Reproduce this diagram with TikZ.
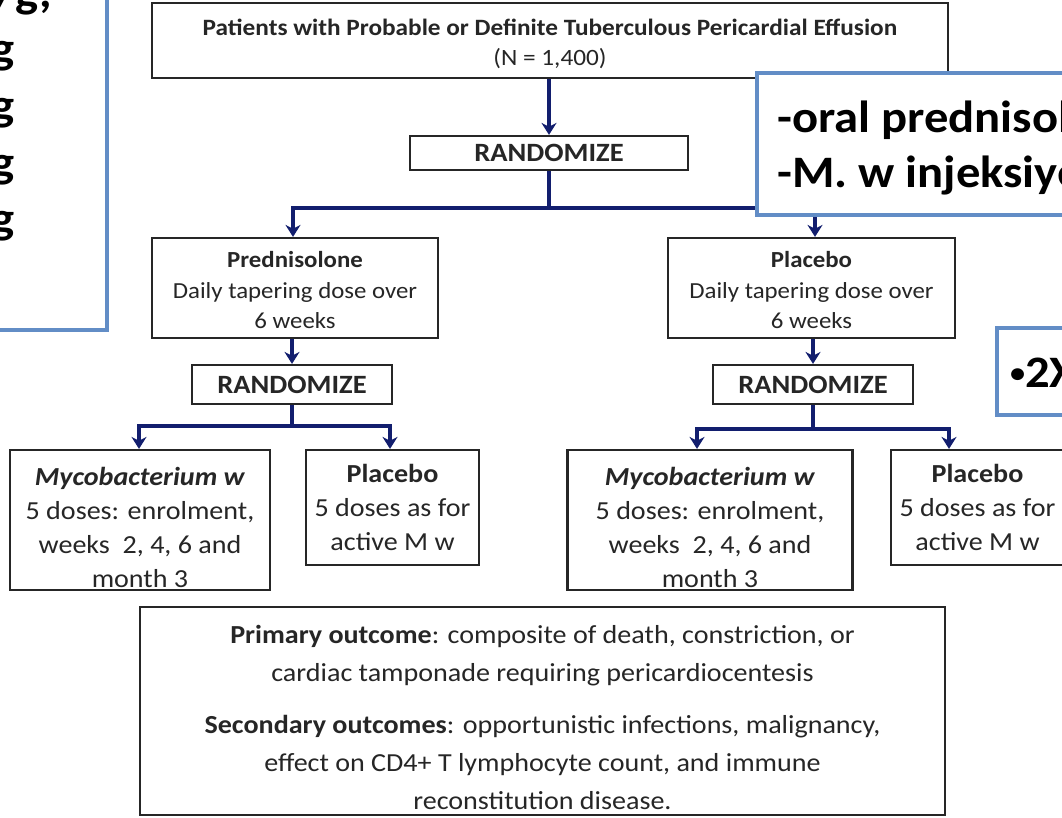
\documentclass[tikz,border=0pt]{standalone}
\usepackage{fontspec}
\setmainfont{Carlito}[FakeStretch=1.08]
\usetikzlibrary{arrows.meta}

\definecolor{navy}{RGB}{18,30,110}
\definecolor{noteblue}{RGB}{98,141,198}

\begin{document}
\begin{tikzpicture}[x=1pt, y=-1pt,
    box/.style={draw=black!85, line width=2.2pt, fill=white, align=center,
        text=black!85, inner sep=0pt},
    arr/.style={draw=navy, line width=3.2pt, -{Stealth[length=12pt, width=15pt]}},
    link/.style={draw=navy, line width=3.2pt},
    note/.style={draw=noteblue, line width=3.6pt, fill=white},
    notetext/.style={font=\fontsize{45}{56}\selectfont\bfseries, inner sep=0pt}]
    \useasboundingbox (0, 0) rectangle (1062, 817);
    \clip (0, 0) rectangle (1062, 817);

    % main trial boxes
    \node[box, minimum width=796pt, minimum height=75pt, font=\fontsize{23.4}{30}\selectfont] (top) at (550, 40.5)
        {\rule{0pt}{23pt}\textbf{Patients with Probable or Definite Tuberculous Pericardial Effusion}\\(N = 1,400)};
    \node[box, minimum width=278pt, minimum height=34pt, font=\fontsize{26.4}{30}\selectfont\bfseries] (rand) at (549, 153) {RANDOMIZE};

    \node[box, minimum width=286pt, minimum height=100pt, font=\fontsize{23}{30.5}\selectfont] (pred) at (295, 288)
        {\rule{0pt}{21pt}\textbf{Prednisolone}\\Daily tapering dose over\\6 weeks};
    \node[box, minimum width=287pt, minimum height=100pt, font=\fontsize{23}{30.5}\selectfont] (plac) at (811.5, 288)
        {\rule{0pt}{21pt}\textbf{Placebo}\\Daily tapering dose over\\6 weeks};

    \node[box, minimum width=200pt, minimum height=39pt, font=\fontsize{26.4}{30}\selectfont\bfseries] (randL) at (292, 384.5) {RANDOMIZE};
    \node[box, minimum width=200pt, minimum height=39pt, font=\fontsize{26.4}{30}\selectfont\bfseries] (randR) at (813, 384.5) {RANDOMIZE};

    \node[box, minimum width=260pt, minimum height=140pt, font=\fontsize{26}{34}\selectfont] (mycoL) at (140, 520)
        {\rule{0pt}{33pt}\textbf{\textit{Mycobacterium w}}\\5 doses: enrolment,\\weeks~~2, 4, 6 and\\month 3};
    \node[box, minimum width=173pt, minimum height=115pt, font=\fontsize{26}{34}\selectfont] (placL) at (392.5, 507.5)
        {\textbf{Placebo}\\5 doses as for\\active M w};
    \node[box, minimum width=285pt, minimum height=140pt, font=\fontsize{26}{34}\selectfont] (mycoR) at (710, 520)
        {\rule{0pt}{33pt}\textbf{\textit{Mycobacterium w}}\\5 doses: enrolment,\\weeks~~2, 4, 6 and\\month 3};
    \node[box, minimum width=173pt, minimum height=115pt, font=\fontsize{26}{34}\selectfont] (placR) at (977.5, 507.5)
        {\textbf{Placebo}\\5 doses as for\\active M w};

    \node[box, minimum width=805pt, minimum height=208pt, font=\fontsize{26}{38}\selectfont] (out) at (542.5, 711)
        {\rule{0pt}{31pt}\textbf{Primary outcome}: composite of death, constriction, or\\
         cardiac tamponade requiring pericardiocentesis\\[14pt]
         \textbf{Secondary outcomes}: opportunistic infections, malignancy,\\
         effect on CD4+ T lymphocyte count, and immune\\
         reconstitution disease.};

    % arrows
    \coordinate (split) at (549, 208);
    \coordinate (splitL) at (292, 426);
    \coordinate (splitR) at (813, 429);

    \draw[arr] (top.south -| rand) -- (rand.north);
    \draw[link] (rand.south) -- (split);
    \draw[arr] (split) -| ([xshift=-2pt]pred.north);
    \draw[arr] (split) -| ([xshift=3.5pt]plac.north);

    \draw[arr] (randL |- pred.south) -- (randL.north);
    \draw[link] (randL.south) -- (splitL);
    \draw[arr] (splitL) -| ([xshift=-1pt]mycoL.north);
    \draw[arr] (splitL) -| ([xshift=-2.5pt]placL.north);

    \draw[arr] (randR |- plac.south) -- (randR.north);
    \draw[link] (randR.south) -- (splitR);
    \draw[arr] (splitR) -| ([xshift=-13pt]mycoR.north);
    \draw[arr] (splitR) -| ([xshift=-28.5pt]placR.north);

    % overlaid notes
    \draw[note] (-20, -20) rectangle (107, 330);
    \node[notetext, anchor=base east] (doseA) at (52, 7) {/g,};
    \node[notetext, anchor=base east] (doseB) at (15, 63) {g};
    \node[notetext, anchor=base east] (doseC) at (15, 120) {g};
    \node[notetext, anchor=base east] (doseD) at (15, 177) {g};
    \node[notetext, anchor=base east] (doseE) at (15, 233) {g};

    \draw[note] (757, 73) rectangle (1100, 215);
    \node[notetext, anchor=base west] (drugA) at (777, 132) {-oral prednisolo};
    \node[notetext, anchor=base west] (drugB) at (777, 187) {-M. w injeksiye};

    \draw[note] (997, 328) rectangle (1100, 415);
    \node[notetext, anchor=base west] (twice) at (1010, 387) {{\fontsize{28}{28}\selectfont\raisebox{5pt}{•}}2X};
\end{tikzpicture}
\end{document}
